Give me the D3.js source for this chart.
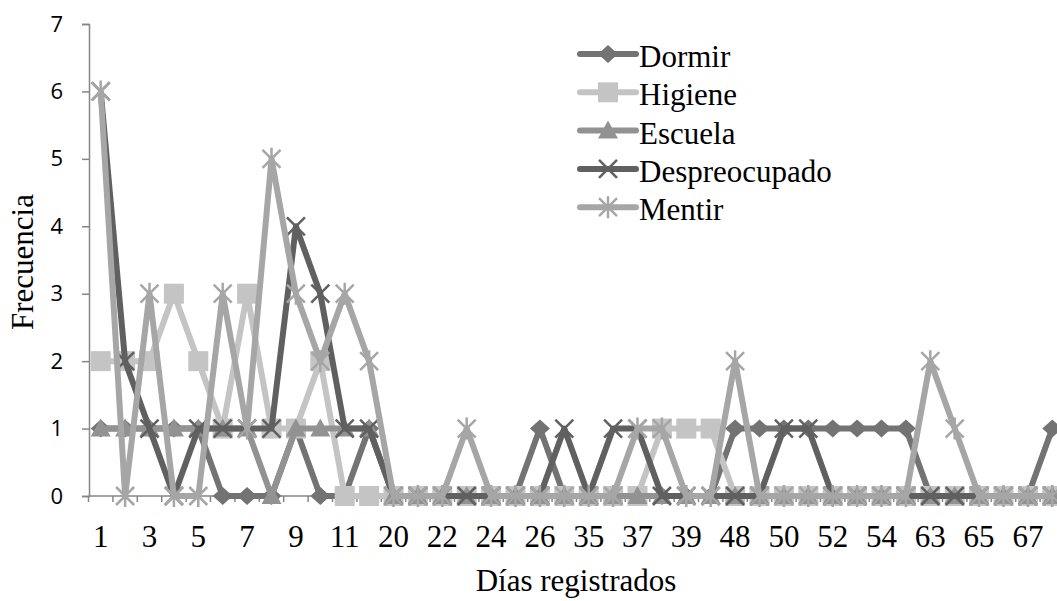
<!DOCTYPE html>
<html>
<head>
<meta charset="utf-8">
<script src="https://cdn.jsdelivr.net/npm/d3@7"></script>
<style>
  body { margin: 0; background: #fff; }
  svg { display: block; }
</style>
</head>
<body>
<svg width="1057" height="601"></svg>
<script>
// dias registrados (categorias del eje x)
var dias = ["1","2","3","4","5","6","7","8","9","10","11","12",
            "20","21","22","23","24","25","26","27",
            "35","36","37","38","39","40",
            "48","49","50","51","52","53","54","55",
            "63","64","65","66","67","68"];

var dormir = [1,1,1,1,1,0,0,0,1,0,0,1, 0,0,0,0,0,0,1,0, 0,0,0,0,0,0, 1,1,1,1,1,1,1,1, 0,0,0,0,0,1];
var higiene = [2,2,2,3,2,1,3,1,1,2,0,0, 0,0,0,0,0,0,0,0, 0,0,0,1,1,1, 0,0,0,0,0,0,0,0, 0,0,0,0,0,0];
var escuela = [1,1,1,1,1,1,1,0,1,1,1,1, 0,0,0,0,0,0,0,0, 0,0,0,0,0,0, 0,0,0,0,0,0,0,0, 0,0,0,0,0,0];
var despreocupado = [6,2,1,0,1,1,1,1,4,3,1,1, 0,0,0,0,0,0,0,1, 0,1,1,0,0,0, 0,0,1,1,0,0,0,0, 0,0,0,0,0,0];
var mentir = [6,0,3,0,0,3,1,5,3,2,3,2, 0,0,0,1,0,0,0,0, 0,0,1,1,0,0, 2,0,0,0,0,0,0,0, 2,1,0,0,0,0];

var yTicks = [0,1,2,3,4,5,6,7];

var series = [
  {name: "Dormir", values: dormir, color: "#737373", marker: "diamond"},
  {name: "Higiene", values: higiene, color: "#c4c4c4", marker: "square"},
  {name: "Escuela", values: escuela, color: "#929292", marker: "triangle"},
  {name: "Despreocupado", values: despreocupado, color: "#606060", marker: "x"},
  {name: "Mentir", values: mentir, color: "#a6a6a6", marker: "star"}
];

var svg = d3.select("svg");
var serif = "'Liberation Serif', 'Times New Roman', serif";

var x = d3.scaleBand()
    .domain(dias)
    .range([88.5, 1064.5]);

var y = d3.scaleLinear()
    .domain([0, 7])
    .range([496, 24]);

function cx(i) { return x(dias[i]) + x.bandwidth() / 2; }

// ejes
var axisColor = "#868686";

var yAxis = svg.append("g")
    .attr("transform", "translate(89,0)")
    .call(d3.axisLeft(y).tickValues(yTicks).tickSize(7).tickPadding(19).tickFormat(d3.format("d")));
yAxis.selectAll("line, path").attr("stroke", axisColor).attr("stroke-width", 1.5);
yAxis.selectAll("text")
    .attr("fill", "#000")
    .style("font-family", "'Open Sans', sans-serif")
    .style("font-size", "22px");

var xAxis = svg.append("g").attr("transform", "translate(0,496)");
xAxis.append("line")
    .attr("x1", x.range()[0]).attr("x2", x.range()[1])
    .attr("stroke", axisColor).attr("stroke-width", 1.5);
xAxis.selectAll(".tick")
  .data(dias.concat(["end"]))
  .enter().append("line")
    .attr("x1", function(d, i) { return x.range()[0] + i * x.bandwidth(); })
    .attr("x2", function(d, i) { return x.range()[0] + i * x.bandwidth(); })
    .attr("y1", 0).attr("y2", 6)
    .attr("stroke", axisColor).attr("stroke-width", 1.5);
xAxis.selectAll("text")
  .data(dias.filter(function(d, i) { return i % 2 == 0; }))
  .enter().append("text")
    .attr("x", function(d) { return x(d) + x.bandwidth() / 2; })
    .attr("y", 51)
    .attr("text-anchor", "middle")
    .style("font-family", serif)
    .style("font-size", "31px")
    .text(function(d) { return d; });

svg.append("text")
    .attr("x", 576).attr("y", 591)
    .attr("text-anchor", "middle")
    .style("font-family", serif).style("font-size", "31px")
    .text("Días registrados");

svg.append("text")
    .attr("transform", "translate(33,262) rotate(-90)")
    .attr("text-anchor", "middle")
    .style("font-family", serif).style("font-size", "31px")
    .text("Frecuencia");

// marcadores
function drawMarker(g, type, color) {
  if (type == "diamond") {
    g.append("path").attr("d", "M0,-9L10,0L0,9L-10,0Z").attr("fill", color);
  } else if (type == "square") {
    g.append("rect").attr("x", -10).attr("y", -10).attr("width", 20).attr("height", 20).attr("fill", color);
  } else if (type == "triangle") {
    g.append("path").attr("d", "M0,-10L10,8L-10,8Z").attr("fill", color);
  } else if (type == "x") {
    g.append("path").attr("d", "M-9,-9L9,9M-9,9L9,-9")
      .attr("stroke", color).attr("stroke-width", 2.5).attr("fill", "none");
  } else {
    g.append("path").attr("d", "M-9,-9L9,9M-9,9L9,-9M0,-11L0,11")
      .attr("stroke", color).attr("stroke-width", 2.5).attr("fill", "none");
  }
}

var line = d3.line()
    .x(function(d, i) { return cx(i); })
    .y(function(d) { return y(d); });

series.forEach(function(s) {
  var g = svg.append("g").attr("class", "serie");
  g.append("path")
    .datum(s.values)
    .attr("d", line)
    .attr("fill", "none")
    .attr("stroke", s.color)
    .attr("stroke-width", 6)
    .attr("stroke-linejoin", "round");
  s.values.forEach(function(v, i) {
    var m = g.append("g").attr("transform", "translate(" + cx(i) + "," + y(v) + ")");
    drawMarker(m, s.marker, s.color);
  });
});

// leyenda
var legend = svg.append("g").attr("transform", "translate(580,54)");
series.forEach(function(s, i) {
  var row = legend.append("g").attr("transform", "translate(0," + (i * 38.3) + ")");
  row.append("line")
    .attr("x1", 0).attr("x2", 56)
    .attr("stroke", s.color).attr("stroke-width", 6)
    .attr("stroke-linecap", "round");
  drawMarker(row.append("g").attr("transform", "translate(28,0)"), s.marker, s.color);
  row.append("text")
    .attr("x", 59).attr("y", 13)
    .style("font-family", serif).style("font-size", "31px")
    .text(s.name);
});
</script>
</body>
</html>
